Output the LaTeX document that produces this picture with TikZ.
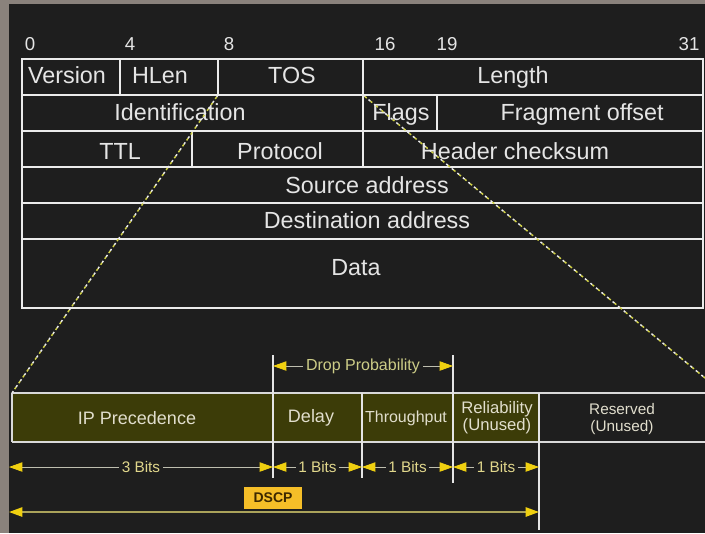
\documentclass[tikz,border=0pt]{standalone}
\usepackage{fontspec}
\setmainfont{Liberation Sans}
\usepackage{xcolor}
\usepackage{tikz}
\usetikzlibrary{arrows.meta,positioning}

\definecolor{bgdark}{RGB}{30,30,30}
\definecolor{framegray}{RGB}{138,130,124}
\definecolor{olivefill}{RGB}{60,60,8}
\definecolor{tipyellow}{RGB}{240,208,16}
\definecolor{dotyellow}{RGB}{210,210,70}
\definecolor{dscpgold}{RGB}{245,190,40}
\definecolor{dscptext}{RGB}{60,40,0}
\definecolor{lbltext}{RGB}{225,222,205}
\definecolor{bitstext}{RGB}{225,215,140}
\definecolor{droptext}{RGB}{205,205,135}
\definecolor{dimline}{RGB}{190,190,175}
\definecolor{dscpline}{RGB}{170,162,90}

\begin{document}
\begin{tikzpicture}[
  x={(0.75pt,0pt)},
  y={(0pt,-0.75pt)},
  grid/.style={draw=white!92!black, line width=1.6pt},
  rowline/.style={draw=white!85!black, line width=1.3pt},
  ext/.style={draw=white!80!gray, line width=0.9pt},
  hdr/.style={font=\fontsize{17.5}{20}\selectfont, text=white!90!black, anchor=base, inner sep=0pt},
  bitno/.style={font=\fontsize{14}{16}\selectfont, text=white!90!black, anchor=base, inner sep=0pt},
  subbig/.style={font=\fontsize{13.5}{16}\selectfont, text=lbltext, align=center, inner sep=0pt},
  subsmall/.style={font=\fontsize{11.5}{12.75}\selectfont, text=lbltext, align=center, inner sep=0pt},
  dim/.style={draw=dimline, line width=0.6pt, <->, >={Triangle[length=10pt,width=7pt,color=tipyellow]}},
  dimlbl/.style={fill=bgdark, inner sep=2pt, font=\fontsize{11.5}{13}\selectfont},
  dscp/.style={fill=dscpgold, text=dscptext, font=\bfseries\fontsize{10.5}{12}\selectfont,
    minimum width=44pt, minimum height=16.5pt, inner sep=0pt},
  zoomw/.style={draw=white!85!gray, line width=1.1pt, dash pattern=on 1.8pt off 3.6pt},
  zoomy/.style={draw=dotyellow, line width=1.1pt, dash pattern=on 1.8pt off 3.6pt, dash phase=3.6pt}
]
\fill[framegray] (0,0) rectangle (705,533);
\fill[bgdark] (9,4) rectangle (705,533);
\useasboundingbox (0,0) rectangle (705,533);

\draw[grid] (22,59) rectangle (703,308);
\foreach \yy in {95,131,167,203,239}
  \draw[grid] (22,\yy) -- (703,\yy);
\draw[grid] (120,59) -- (120,95);
\draw[grid] (218,59) -- (218,95);
\draw[grid] (363,59) -- (363,167);
\draw[grid] (437,95) -- (437,131);
\draw[grid] (192,131) -- (192,167);

\node[bitno] (b0) at (30,50) {0};
\node[bitno] (b4) at (130,50) {4};
\node[bitno] (b8) at (229,50) {8};
\node[bitno] (b16) at (385,50) {16};
\node[bitno] (b19) at (447,50) {19};
\node[bitno] (b31) at (689,50) {31};

\node[hdr] (version) at (67,83) {Version};
\node[hdr] (hlen) at (160,83) {HLen};
\node[hdr] (tos) at (292,83) {TOS};
\node[hdr] (length) at (513,83) {Length};
\node[hdr] (ident) at (180,120) {Identification};
\node[hdr] (flags) at (401,120) {Flags};
\node[hdr] (fragoff) at (582,120) {Fragment offset};
\node[hdr] (ttl) at (120,159) {TTL};
\node[hdr] (proto) at (280,159) {Protocol};
\node[hdr] (hcsum) at (515,159) {Header checksum};
\node[hdr] (src) at (367,193) {Source address};
\node[hdr] (dst) at (367,228) {Destination address};
\node[hdr] (data) at (356,275) {Data};

\fill[olivefill] (12,393) rectangle (539,442);
\draw[rowline] (12,393) -- (705,393);
\draw[rowline] (12,442) -- (705,442);
\draw[rowline] (12,393) -- (12,442);
\draw[ext] (273,355) -- (273,478);
\draw[ext] (453,355) -- (453,483);
\draw[ext] (362,393) -- (362,478);
\draw[ext] (539,393) -- (539,530);

\node[subbig] (ipprec) at (137,418) {IP Precedence};
\node[subbig] (delay) at (311,418) {Delay};
\node[subsmall, font=\fontsize{12}{13}\selectfont] (thru) at (406,418) {Throughput};
\node[subsmall, font=\fontsize{12.5}{12.75}\selectfont] (relia) at (497,418) {Reliability\\(Unused)};
\node[subsmall] (resv) at (622,419) {Reserved\\(Unused)};

\coordinate (dpL) at (273,366);
\coordinate (dpR) at (453,366);
\draw[dim] (dpL) -- (dpR) node[midway, dimlbl, text=droptext, font=\fontsize{12}{13}\selectfont] (droplbl) {Drop Probability};

\coordinate (bt0) at (9,467);
\coordinate (bt1) at (273,467);
\coordinate (bt2) at (362,467);
\coordinate (bt3) at (453,467);
\coordinate (bt4) at (539,467);
\draw[dim] (bt0) -- (bt1) node[midway, dimlbl, text=bitstext] (bits3) {3 Bits};
\draw[dim] (bt1) -- (bt2) node[midway, dimlbl, text=bitstext] (bitsd) {1 Bits};
\draw[dim] (bt2) -- (bt3) node[midway, dimlbl, text=bitstext] (bitst) {1 Bits};
\draw[dim] (bt3) -- (bt4) node[midway, dimlbl, text=bitstext] (bitsr) {1 Bits};

\coordinate (ds0) at (9,512);
\coordinate (ds1) at (539,512);
\draw[dim, draw=dscpline, line width=1.2pt] (ds0) -- (ds1);
\node[dscp] (dscplbl) at (273,498) {DSCP};

\coordinate (tosBL) at (218,95);
\coordinate (tosBR) at (363,95);
\coordinate (subTL) at (12,393);
\coordinate (subTR) at (705,378);
\draw[zoomw] (tosBL) -- (subTL);
\draw[zoomy] (tosBL) -- (subTL);
\draw[zoomw] (tosBR) -- (subTR);
\draw[zoomy] (tosBR) -- (subTR);
\end{tikzpicture}
\end{document}
